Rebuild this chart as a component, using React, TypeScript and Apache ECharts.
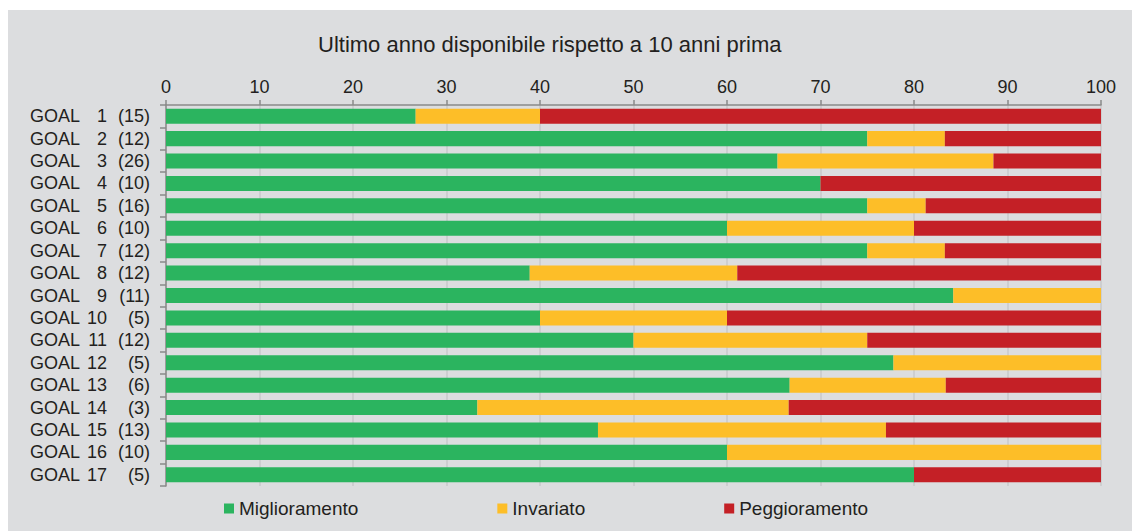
import React, { useEffect, useRef } from 'react';
import * as echarts from 'echarts';

const goalNumbers = [1, 2, 3, 4, 5, 6, 7, 8, 9, 10, 11, 12, 13, 14, 15, 16, 17];
const indicatorCounts = [15, 12, 26, 10, 16, 10, 12, 12, 11, 5, 12, 5, 6, 3, 13, 10, 5];
const miglioramento = [26.7, 75, 65.4, 70, 75, 60, 75, 38.9, 84.2, 40, 50, 77.8, 66.7, 33.3, 46.2, 60, 80];
const invariato = [13.3, 8.3, 23.1, 0, 6.25, 20, 8.3, 22.2, 15.8, 20, 25, 22.2, 16.7, 33.3, 30.8, 40, 0];
const peggioramento = [60, 16.7, 11.5, 30, 18.75, 20, 16.7, 38.9, 0, 40, 25, 0, 16.6, 33.4, 23.0, 0, 20];
const seriesNames = ['Miglioramento', 'Invariato', 'Peggioramento'];
const titleText = 'Ultimo anno disponibile rispetto a 10 anni prima';

const colors = ['#2bb45f', '#fdbe28', '#c42026'];
const textColor = '#231f20';
const axisColor = '#8a8a8a';

export default function App() {
  const ref = useRef<HTMLDivElement>(null);
  useEffect(() => {
    const chart = echarts.init(ref.current!, null, { renderer: 'svg' });
    const categories = goalNumbers.map((n, i) => `GOAL ${n} (${indicatorCounts[i]})`);
    const seriesData = [miglioramento, invariato, peggioramento];
    chart.setOption({
      animation: false,
      backgroundColor: '#dcdddf',
      textStyle: { fontFamily: 'Liberation Sans, Arial, sans-serif' },
      title: {
        text: titleText,
        left: 310,
        top: 23,
        padding: 0,
        textStyle: { fontSize: 22, fontWeight: 'normal', color: textColor },
      },
      legend: {
        data: seriesNames,
        left: 216,
        top: 489,
        padding: 0,
        icon: 'rect',
        itemWidth: 10,
        itemHeight: 10,
        itemGap: 139,
        textStyle: { fontSize: 19, color: textColor },
      },
      grid: { left: 158, right: 31, top: 95, bottom: 45 },
      xAxis: {
        type: 'value',
        position: 'top',
        min: 0,
        max: 100,
        interval: 10,
        axisLine: { show: true, lineStyle: { color: axisColor, width: 1.5 } },
        axisTick: { show: true, length: 5, lineStyle: { color: axisColor, width: 1.5 } },
        axisLabel: { fontSize: 18, color: textColor, margin: 9 },
        splitLine: { show: true, lineStyle: { color: '#c8c9cb', width: 1.5 } },
      },
      yAxis: {
        type: 'category',
        inverse: true,
        data: categories,
        axisLine: { show: true, lineStyle: { color: axisColor, width: 1.5 } },
        axisTick: { show: true, length: 6, lineStyle: { color: axisColor, width: 1.5 } },
        splitLine: { show: false },
        axisLabel: {
          margin: 16,
          formatter: (_v: string, i: number) =>
            `{a|GOAL}{b|${goalNumbers[i]}}{c|(${indicatorCounts[i]})}`,
          rich: {
            a: { width: 55, align: 'left', fontSize: 18, color: textColor },
            b: { width: 22, align: 'right', fontSize: 18, color: textColor },
            c: { width: 43, align: 'right', fontSize: 18, color: textColor },
          },
        },
      },
      series: seriesNames.map((name, k) => ({
        name,
        type: 'bar',
        stack: 'total',
        barWidth: '67%',
        data: seriesData[k],
        itemStyle: { color: colors[k] },
      })),
    });
    return () => chart.dispose();
  }, []);
  return (
    <div
      ref={ref}
      style={{ position: 'absolute', left: 8, top: 10, width: 1124, height: 521 }}
    />
  );
}
